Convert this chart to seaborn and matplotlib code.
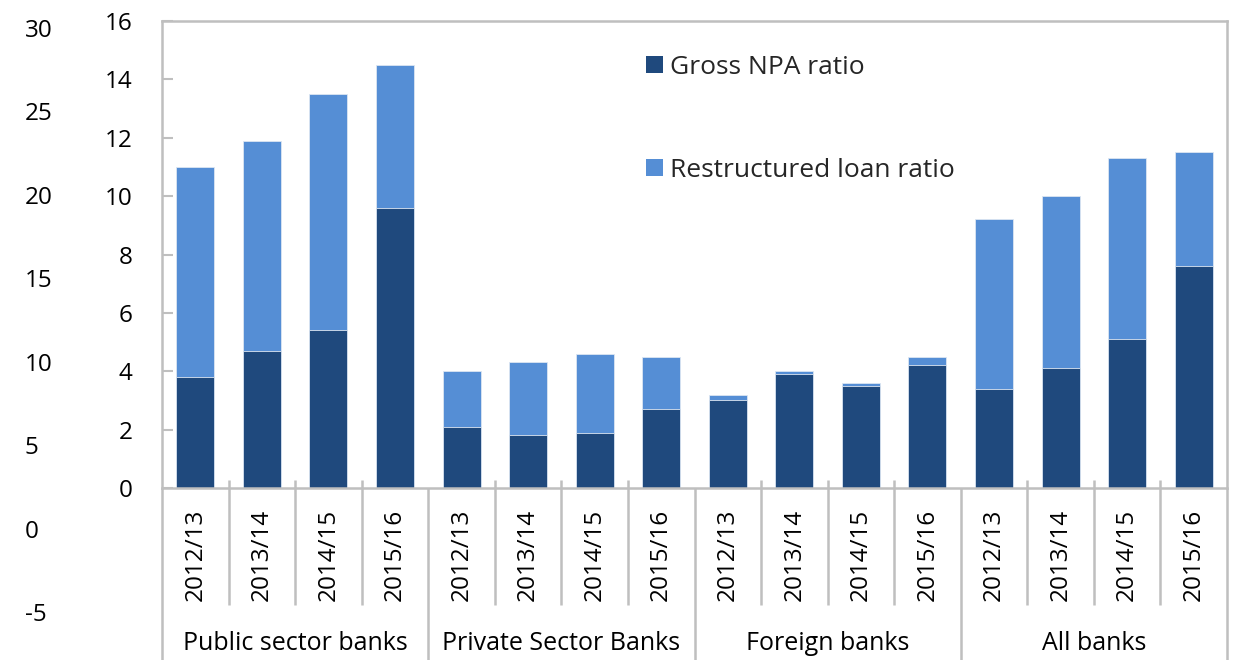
import matplotlib
matplotlib.use("Agg")
import matplotlib.pyplot as plt
import matplotlib.transforms as mtransforms
from matplotlib.patches import Patch
import numpy as np
import pandas as pd
import seaborn as sns

# ---- data -------------------------------------------------------------
groups = ["Public sector banks", "Private Sector Banks", "Foreign banks", "All banks"]
years = ["2012/13", "2013/14", "2014/15", "2015/16"]
gross_npa = [3.8, 4.7, 5.4, 9.6,
             2.1, 1.8, 1.9, 2.7,
             3.0, 3.9, 3.5, 4.2,
             3.4, 4.1, 5.1, 7.6]
restructured = [7.2, 7.2, 8.1, 4.9,
                1.9, 2.5, 2.7, 1.8,
                0.2, 0.1, 0.1, 0.3,
                5.8, 5.9, 6.2, 3.9]
left_scale_ticks = [30, 25, 20, 15, 10, 5, 0, -5]

DARK = "#1F497D"
LIGHT = "#558ED5"
GRID = "#BFBFBF"
TEXT = "#000000"

df = pd.DataFrame({
    "group": np.repeat(groups, len(years)),
    "year": years * len(groups),
    "gross": gross_npa,
    "restr": restructured,
})
df["key"] = df["group"] + "|" + df["year"]
df["total"] = df["gross"] + df["restr"]
order = list(df["key"])

sns.set_theme(style="white")
plt.rcParams["font.family"] = ["Open Sans", "DejaVu Sans"]
plt.rcParams["axes.unicode_minus"] = False
FS_TICK = 17.5
FS_CAT = 18
FS_LEG = 19

W, H = 1233, 660
fig = plt.figure(figsize=(W / 100, H / 100), dpi=100)

def fx(px):
    return px / W

def fy(py):
    return (H - py) / H

ax_l, ax_r, ax_t, ax_b = 162, 1227, 21, 488
ax = fig.add_axes([fx(ax_l), fy(ax_b), fx(ax_r - ax_l), (ax_b - ax_t) / H])

# stacked bars: full height in light blue, gross NPA overlaid in dark blue
sns.barplot(data=df, x="key", y="total", order=order, color=LIGHT,
            width=0.57, saturation=1, ax=ax, edgecolor="#DCE6F2", linewidth=0.6)
sns.barplot(data=df, x="key", y="gross", order=order, color=DARK,
            width=0.57, saturation=1, ax=ax, edgecolor="#DCE6F2", linewidth=0.6)

ax.set_xlim(-0.5, len(order) - 0.5)
ax.set_ylim(0, 16)
ax.set_yticks(np.arange(0, 17, 2))
ax.set_xlabel("")
ax.set_ylabel("")
ax.set_xticks([])
ax.tick_params(axis="y", direction="in", length=8, width=1.5, color=GRID,
               pad=21, labelsize=FS_TICK, labelcolor=TEXT, left=True)
for s in ax.spines.values():
    s.set_color(GRID)
    s.set_linewidth(1.8)
    s.set_visible(True)

# category axis: separators and two-level labels
tr = mtransforms.blended_transform_factory(ax.transData, fig.transFigure)
n = len(order)
for i in range(n + 1):
    xb = i - 0.5
    if i in (0, n) or i % len(years) == 0:
        y0, y1 = fy(ax_b), fy(H)
    else:
        y0, y1 = fy(ax_b - 8), fy(605)
    ax.plot([xb, xb], [y0, y1], transform=tr, color=GRID, lw=1.8,
            clip_on=False, solid_capstyle="butt")

for i, key in enumerate(order):
    ax.text(i, fy(555), key.split("|")[1], transform=tr, rotation=90,
            ha="center", va="center", fontsize=FS_TICK, color=TEXT)

for g, name in enumerate(groups):
    xc = g * len(years) + (len(years) - 1) / 2
    ax.text(xc, fy(643), name, transform=tr, ha="center", va="center",
            fontsize=FS_CAT, color=TEXT)

# legend
handles = [Patch(facecolor=DARK, edgecolor="none", label="Gross NPA ratio"),
           Patch(facecolor=LIGHT, edgecolor="none", label="Restructured loan ratio")]
ax.legend(handles=handles, loc="upper left",
          bbox_to_anchor=(fx(646), fy(55)), bbox_transform=fig.transFigure,
          frameon=False, fontsize=FS_LEG, handlelength=0.64, handleheight=0.64,
          handletextpad=0.27, labelspacing=2.95, borderaxespad=0,
          borderpad=0)

# outer value scale on the far left
ax2 = fig.add_axes([fx(25), fy(612), 0.001, (612 - 28) / H])
ax2.set_ylim(-5, 30)
ax2.set_yticks(left_scale_ticks)
ax2.set_xticks([])
ax2.tick_params(axis="y", length=0, pad=0, labelsize=FS_TICK, labelcolor=TEXT)
for lab in ax2.get_yticklabels():
    lab.set_horizontalalignment("left")
for s in ax2.spines.values():
    s.set_visible(False)
ax2.patch.set_alpha(0)

fig.savefig("out.png", dpi=100)
